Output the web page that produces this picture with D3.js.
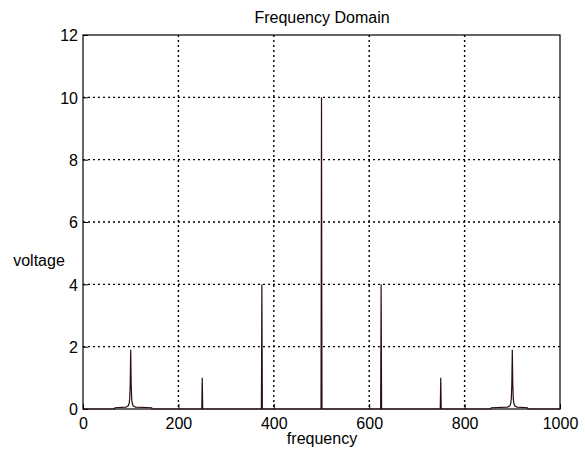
<!DOCTYPE html>
<html><head><meta charset="utf-8">
<script src="https://cdn.jsdelivr.net/npm/d3@7"></script>
<style>
html,body{margin:0;padding:0;background:#fff;}
text{font-family:"Liberation Sans",Arial,sans-serif;font-size:16px;fill:#000;}
</style></head>
<body><svg id="c" width="585" height="450"></svg>
<script>
// data
const frequency = [0, 66, 67, 90, 95, 97, 98, 99, 100, 101, 102, 103, 105, 110, 144, 145,
  249, 250, 251, 374, 375, 376, 499, 500, 501, 624, 625, 626, 749, 750, 751,
  855, 856, 890, 895, 897, 898, 899, 900, 901, 902, 903, 905, 910, 932, 933, 1000];
const voltage = [0, 0, 0.04, 0.06, 0.1, 0.2, 0.35, 0.8, 1.9, 0.8, 0.35, 0.2, 0.1, 0.06, 0.04, 0,
  0, 1.0, 0, 0, 4.0, 0, 0, 10.0, 0, 0, 4.0, 0, 0, 1.0, 0,
  0, 0.04, 0.06, 0.1, 0.2, 0.35, 0.8, 1.9, 0.8, 0.35, 0.2, 0.1, 0.06, 0.04, 0, 0];
const xTicks = [0, 200, 400, 600, 800, 1000];
const yTicks = [0, 2, 4, 6, 8, 10, 12];
const title = "Frequency Domain";
const xLabel = "frequency";
const yLabel = "voltage";

const svg = d3.select("#c");
const L = 83, R = 560, T = 35, B = 409;
const x = d3.scaleLinear().domain([0, 1000]).range([L, R]);
const y = d3.scaleLinear().domain([0, 12]).range([B, T]);

// grid
const g = svg.append("g");
g.selectAll("line.vx").data(xTicks.slice(1, -1)).join("line")
  .attr("x1", d => x(d)).attr("x2", d => x(d)).attr("y1", T).attr("y2", B)
  .attr("stroke", "#000").attr("stroke-width", 1.4).attr("stroke-dasharray", "2,3");
g.selectAll("line.hy").data(yTicks.slice(1, -1)).join("line")
  .attr("y1", d => y(d)).attr("y2", d => y(d)).attr("x1", L).attr("x2", R)
  .attr("stroke", "#000").attr("stroke-width", 1.4).attr("stroke-dasharray", "2,3");

// box
svg.append("rect").attr("x", L).attr("y", T).attr("width", R - L).attr("height", B - T)
  .attr("fill", "none").attr("stroke", "#000").attr("stroke-width", 1.2);

// axes (inward ticks)
const xa = svg.append("g").attr("transform", `translate(0,${B})`)
  .call(d3.axisBottom(x).tickValues(xTicks).tickSize(-5).tickPadding(15).tickFormat(d3.format("d")));
const ya = svg.append("g").attr("transform", `translate(${L},0)`)
  .call(d3.axisLeft(y).tickValues(yTicks).tickSize(-5).tickPadding(10).tickFormat(d3.format("d")));
[xa, ya].forEach(a => {
  a.select(".domain").remove();
  a.selectAll("text").attr("font-size", 16).attr("font-family", '"Liberation Sans",Arial,sans-serif').attr("fill", "#000");
  a.selectAll("line").attr("stroke", "#000");
});
xa.selectAll("text").attr("dy", "0.71em").attr("y", 9);
ya.selectAll("text").attr("dy", "0.36em").attr("x", -5);

// data line
const line = d3.line().x((d, i) => x(frequency[i])).y((d, i) => y(voltage[i]));
svg.append("path").datum(frequency).attr("d", line)
  .attr("fill", "none").attr("stroke", "#2b0f0f").attr("stroke-width", 1.2);

// labels
svg.append("text").attr("x", 322).attr("y", 23).attr("text-anchor", "middle").text(title);
svg.append("text").attr("x", 322).attr("y", 444).attr("text-anchor", "middle").text(xLabel);
svg.append("text").attr("x", 39).attr("y", 266).attr("text-anchor", "middle").text(yLabel);
</script></body></html>
